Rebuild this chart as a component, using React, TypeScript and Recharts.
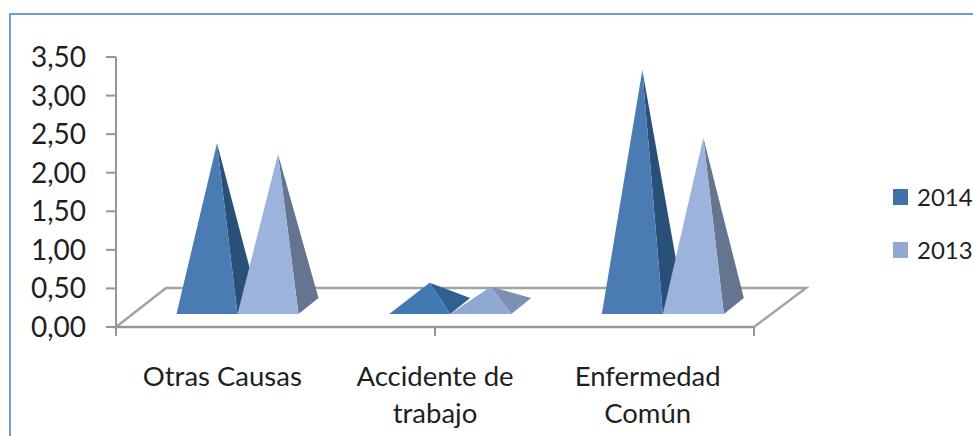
import { BarChart, Bar, XAxis, YAxis, Legend } from "recharts";

const categories = ["Otras Causas", "Accidente de trabajo", "Enfermedad Común"];
const values2014 = [2.11, 0.3, 3.06];
const values2013 = [1.97, 0.25, 2.18];
const yTicks = [0, 0.5, 1, 1.5, 2, 2.5, 3, 3.5];
const bandEdges = [0, 1, 2, 3];

const rows = categories.map((name, i) => ({
  name,
  y2014: values2014[i],
  y2013: values2013[i],
}));

const FONT = "Lato, 'Open Sans', sans-serif";
const AXIS_GREY = "#959595";
const TEXT = "#1f1f1f";

// how far the pyramids sit inside the tilted floor
const SHIFT_X = 15.5;
const BASE_LIFT = 13;
const APEX_LIFT = 21;
const DEPTH_X = 20;
const DEPTH_Y = 16;

function pyramid(front: string, side: string, lowFront: string, lowSide: string) {
  return (props: any) => {
    const { x, y, width, height } = props;
    const low = height < 40;
    const left = x + SHIFT_X;
    const right = left + width;
    const base = y + height - BASE_LIFT;
    const apexX = left + width / 2 + DEPTH_X / 2;
    const apexY = y - APEX_LIFT;
    return (
      <g>
        <polygon
          points={`${right},${base} ${right + DEPTH_X},${base - DEPTH_Y} ${apexX},${apexY}`}
          fill={low ? lowSide : side}
        />
        <polygon
          points={`${left},${base} ${right},${base} ${apexX},${apexY}`}
          fill={low ? lowFront : front}
        />
      </g>
    );
  };
}

function CategoryTick({ x, y, payload }: any) {
  const label: string = payload.value;
  const cut = label.lastIndexOf(" ");
  const lines = label.length > 12 ? [label.slice(0, cut), label.slice(cut + 1)] : [label];
  return (
    <text x={x} y={y} textAnchor="middle" fontFamily={FONT} fontSize={27.5} fill={TEXT}>
      {lines.map((line, i) => (
        <tspan key={line} x={x} dy={i === 0 ? 0 : 37}>
          {line}
        </tspan>
      ))}
    </text>
  );
}

function YearLegend({ payload }: any) {
  return (
    <div style={{ fontFamily: FONT, fontSize: 24, color: TEXT, lineHeight: "53px" }}>
      {(payload || []).map((entry: any) => (
        <div key={entry.value} style={{ display: "flex", alignItems: "center", whiteSpace: "nowrap" }}>
          <span style={{ width: 15, height: 16, background: entry.color, marginRight: 9 }} />
          {entry.value}
        </div>
      ))}
    </div>
  );
}

export default function App() {
  return (
    <div style={{ position: "absolute", left: 0, top: 0, width: 973, height: 436, overflow: "hidden", background: "#fff" }}>
      <div
        style={{
          position: "absolute",
          left: 9,
          top: 13,
          right: 0,
          bottom: 0,
          borderTop: "2px solid #6b9fd4",
          borderLeft: "2px solid #6b9fd4",
        }}
      />
      <div style={{ position: "absolute", left: 0, top: 0 }}>
        <BarChart
          width={973}
          height={436}
          data={rows}
          margin={{ top: 57, right: 139, bottom: 0, left: 0 }}
          barSize={61}
          barGap={0}
        >
          {/* floor of the 3D plot */}
          <polygon
            points="116,327 166,288 806,288 754,327"
            fill="none"
            stroke="#a3a3a3"
            strokeWidth={2.5}
          />
          <YAxis
            width={116}
            domain={[0, 3.5]}
            ticks={yTicks}
            interval={0}
            tickSize={10}
            tickMargin={20}
            tickFormatter={(v: number) => v.toFixed(2).replace(".", ",")}
            tick={{ fontFamily: FONT, fontSize: 28, fill: TEXT }}
            axisLine={{ stroke: AXIS_GREY, strokeWidth: 2 }}
            tickLine={{ stroke: AXIS_GREY, strokeWidth: 2 }}
          />
          {/* tick marks fall on the category boundaries, so they get their own numeric axis */}
          <XAxis
            type="number"
            domain={[0, 3]}
            ticks={bandEdges}
            interval={0}
            height={9}
            tickSize={9}
            tickFormatter={() => ""}
            axisLine={{ stroke: AXIS_GREY, strokeWidth: 2 }}
            tickLine={{ stroke: AXIS_GREY, strokeWidth: 2 }}
          />
          <XAxis
            xAxisId="names"
            dataKey="name"
            height={100}
            interval={0}
            axisLine={false}
            tickLine={false}
            tick={<CategoryTick />}
            tickMargin={44}
          />
          <Legend
            layout="vertical"
            align="right"
            verticalAlign="middle"
            itemSorter={null}
            content={<YearLegend />}
            wrapperStyle={{ left: 893, top: 170, width: 80 }}
          />
          <Bar
            xAxisId="names"
            dataKey="y2014"
            name="2014"
            fill="#3f70a9"
            shape={pyramid("#4a7bb3", "#285078", "#4279b3", "#30608f")}
            isAnimationActive={false}
          />
          <Bar
            xAxisId="names"
            dataKey="y2013"
            name="2013"
            fill="#93a8d0"
            shape={pyramid("#9cb3dd", "#65758f", "#8fa9d3", "#7d90b4")}
            isAnimationActive={false}
          />
        </BarChart>
      </div>
    </div>
  );
}
